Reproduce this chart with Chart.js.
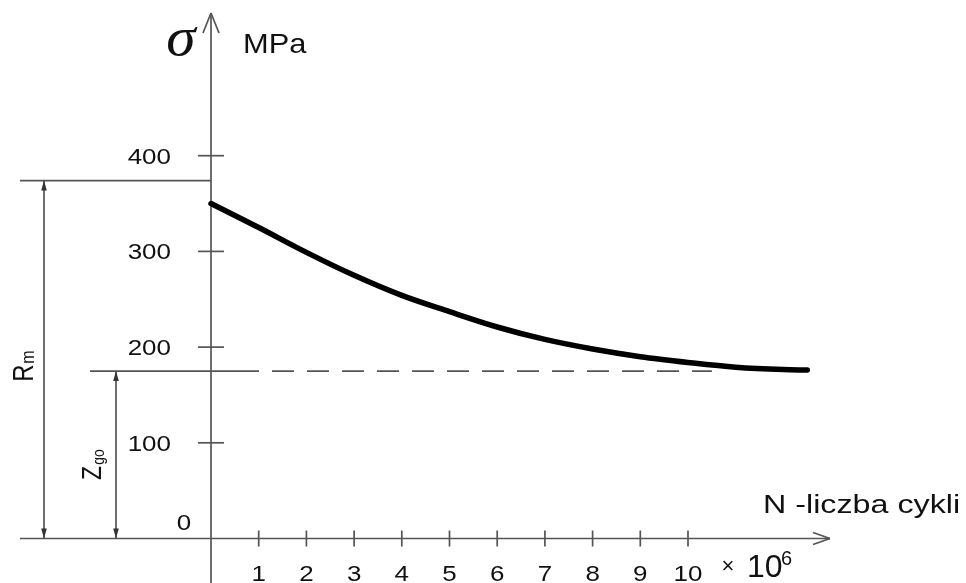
<!DOCTYPE html>
<html>
<head>
<meta charset="utf-8">
<script src="https://cdn.jsdelivr.net/npm/chart.js@4"></script>
<style>
  html, body { margin: 0; padding: 0; background: #fff; }
  #wrap { width: 966px; height: 583px; }
</style>
</head>
<body>
<div id="wrap"><canvas id="wykres"></canvas></div>
<script>
// dane
const cykle = [0, 1, 2, 3, 4, 5, 6, 7, 8, 9, 10, 11, 12, 12.5]; // N x 10^6
const naprezenie = [350, 325, 299, 275, 254, 237, 221, 208, 198, 190, 184, 179, 176.5, 176]; // MPa
const yTicks = [100, 200, 300, 400];
const xTicks = [1, 2, 3, 4, 5, 6, 7, 8, 9, 10];
const Rm = 374;
const Zgo = 175;

const AXIS = "#555";
const FONT = '"Liberation Sans", Arial, sans-serif';

function tekst(ctx, s, x, y, size, opts = {}) {
  ctx.save();
  ctx.translate(x, y);
  ctx.scale(opts.sx || 1.18, 1);
  if (opts.rot) ctx.rotate(opts.rot);
  ctx.font = (opts.style || "") + " " + size + "px " + (opts.family || FONT);
  ctx.fillStyle = opts.color || "#111";
  ctx.textAlign = opts.align || "center";
  ctx.textBaseline = opts.base || "alphabetic";
  ctx.fillText(s, 0, 0);
  ctx.restore();
}

function linia(ctx, x1, y1, x2, y2, w, dash) {
  ctx.save();
  ctx.strokeStyle = AXIS;
  ctx.lineWidth = w || 1.7;
  ctx.setLineDash(dash || []);
  ctx.beginPath();
  ctx.moveTo(x1, y1);
  ctx.lineTo(x2, y2);
  ctx.stroke();
  ctx.restore();
}

// grot wypelniony, dir = -1 w gore, 1 w dol
function grot(ctx, x, y, dir) {
  ctx.save();
  ctx.fillStyle = "#333";
  ctx.beginPath();
  ctx.moveTo(x, y);
  ctx.lineTo(x - 2.8, y - dir * 10);
  ctx.lineTo(x + 2.8, y - dir * 10);
  ctx.closePath();
  ctx.fill();
  ctx.restore();
}

const osie = {
  id: "osie",
  beforeDatasetsDraw(chart) {
    const ctx = chart.ctx;
    const sx = chart.scales.x, sy = chart.scales.y;
    const x0 = sx.getPixelForValue(0), y0 = sy.getPixelForValue(0);
    const left = 20;

    // os Y ze strzalka
    linia(ctx, x0, 13, x0, chart.height);
    linia(ctx, x0 - 8, 33, x0, 13);
    linia(ctx, x0 + 8, 33, x0, 13);
    // os X ze strzalka
    const xEnd = 830;
    linia(ctx, left, y0, xEnd, y0);
    linia(ctx, xEnd - 17, y0 - 6, xEnd, y0);
    linia(ctx, xEnd - 17, y0 + 6, xEnd, y0);

    yTicks.forEach(v => {
      const py = sy.getPixelForValue(v);
      linia(ctx, x0 - 13, py, x0 + 13, py);
      tekst(ctx, String(v), 171, py + 8, 22, { align: "right" });
    });
    tekst(ctx, "0", 184, y0 - 9, 22);

    xTicks.forEach(v => {
      const px = sx.getPixelForValue(v);
      linia(ctx, px, y0 - 8, px, y0 + 8);
      tekst(ctx, String(v), px, 581, 22);
    });

    // linie Rm i Zgo
    const yRm = sy.getPixelForValue(Rm), yZ = sy.getPixelForValue(Zgo);
    linia(ctx, left, yRm, x0, yRm);
    linia(ctx, 90, yZ, x0 + 26, yZ);
    linia(ctx, x0 + 26, yZ, sx.getPixelForValue(10.5), yZ, 1.7, [22, 13]);

    linia(ctx, 44, yRm, 44, y0);
    grot(ctx, 44, yRm, -1);
    grot(ctx, 44, y0, 1);
    linia(ctx, 116, yZ, 116, y0);
    grot(ctx, 116, yZ, -1);
    grot(ctx, 116, y0, 1);

    // opisy pionowe
    tekst(ctx, "R", 33, 373, 24, { rot: -Math.PI / 2, sx: 1.2 });
    tekst(ctx, "m", 34, 357, 16, { rot: -Math.PI / 2, sx: 1.2 });
    tekst(ctx, "Z", 101, 473, 23, { rot: -Math.PI / 2, sx: 1.2 });
    tekst(ctx, "go", 104, 457, 14, { rot: -Math.PI / 2, sx: 1.2 });

    // opisy osi
    tekst(ctx, "σ", 181, 55, 54, { style: "italic", family: '"Liberation Serif", "DejaVu Serif", serif', sx: 1.1 });
    tekst(ctx, "MPa", 243, 53, 28, { align: "left", sx: 1.1 });
    tekst(ctx, "N -liczba cykli", 763, 513, 25, { align: "left", sx: 1.29 });
    tekst(ctx, "×", 728, 573, 22, { sx: 1.0 });
    tekst(ctx, "10", 747, 577, 32, { align: "left", sx: 1.0 });
    tekst(ctx, "6", 781, 565, 20, { align: "left", sx: 1.0 });
  }
};

new Chart(document.getElementById("wykres"), {
  type: "line",
  data: {
    datasets: [{
      label: "σ(N)",
      data: cykle.map((n, i) => ({ x: n, y: naprezenie[i] })),
      borderColor: "#000",
      borderWidth: 5.5,
      pointRadius: 0,
      cubicInterpolationMode: "monotone",
      borderCapStyle: "round",
      fill: false
    }]
  },
  options: {
    responsive: true,
    maintainAspectRatio: false,
    animation: false,
    layout: { padding: 0 },
    plugins: { legend: { display: false }, tooltip: { enabled: false } },
    scales: {
      x: { type: "linear", display: false, min: -211 / 47.7, max: (966 - 211) / 47.7 },
      y: { type: "linear", display: false, min: -(583 - 538.5) / 0.957, max: 538.5 / 0.957 }
    }
  },
  plugins: [osie]
});
</script>
</body>
</html>
